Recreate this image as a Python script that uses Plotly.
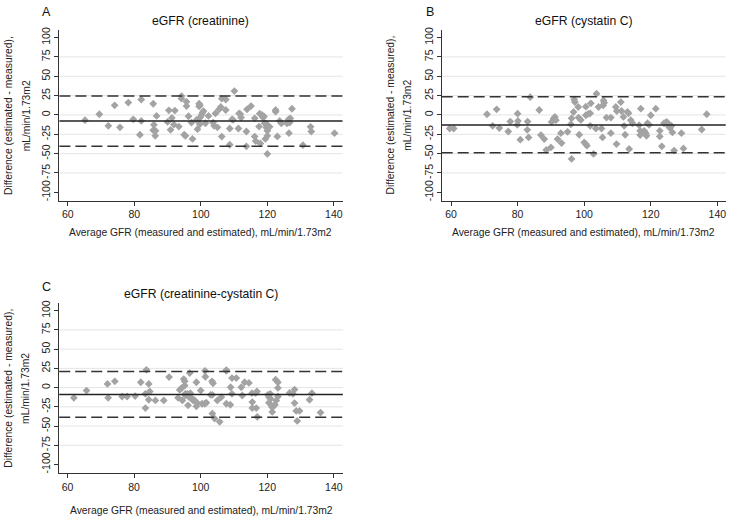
import plotly.graph_objects as go

W, H = 730, 519

# ---------------- data ----------------
a_avg = [65.2, 69.5, 72.2, 74.1, 75.7, 78.2, 79.7, 82.1, 82.1, 81.7, 85.7, 85.9, 85.7, 86.4, 86.3, 86.7,
         90.0, 90.4, 90.9, 91.3, 91.9, 92.2, 93.4, 94.2, 94.2, 95.0, 95.4, 95.7, 95.7, 96.3, 97.2, 97.5,
         98.7, 99.0, 99.5, 99.5, 99.7, 99.8, 99.7, 100.2, 100.5, 100.8, 101.4, 102.3, 103.7, 104.0, 104.4,
         105.0, 105.5, 106.0, 106.3, 106.3, 107.5, 107.5, 108.7, 108.7, 109.4, 110.1, 109.7, 111.3, 111.5,
         111.9, 112.1, 113.9, 113.7, 113.7, 115.1, 116.2, 116.2, 116.5, 117.5, 117.7, 117.9, 118.4, 118.7,
         119.0, 119.2, 119.4, 119.7, 119.8, 120.0, 120.0, 120.0, 120.7, 122.5, 122.5, 123.0, 123.7, 124.2,
         125.9, 126.4, 126.5, 126.9, 126.7, 127.4, 130.7, 133.0, 133.2, 140.2]
a_diff = [-6.8, 0.9, -14.0, 12.4, -16.0, 16.0, -5.6, 20.0, -7.7, -25.6, 14.5, -12.8, -19.7, -20.5, -27.0, -1.3,
          -9.0, 6.0, -19.2, -3.8, -12.4, 5.6, -15.0, 24.4, 21.0, -25.6, -27.0, 17.0, 11.5, -1.7, -9.8, -31.0,
          -6.4, -18.4, 14.5, 11.0, 12.8, -3.4, -12.0, 0.0, 3.0, 5.0, -10.7, -1.3, -9.8, -14.0, 2.0,
          -16.0, 7.3, 10.3, 21.0, -28.0, 20.0, 6.4, -17.5, -38.5, -5.6, 30.8, -6.4, -17.5, 2.0,
          0.9, -3.4, 7.3, -21.4, -40.6, 11.5, -4.3, -28.0, -33.8, -15.0, 1.7, -36.8, 0.0, -3.4,
          -2.0, -10.7, -31.0, -16.2, -12.0, -20.5, -27.0, -50.4, -15.4, 6.4, 4.3, -27.8, -7.7, -11.0,
          -11.0, -5.6, -23.5, -4.3, -9.8, 8.0, -39.0, -15.4, -21.4, -23.5]
a_mean, a_upper, a_lower = -7.8, 24.4, -40.3

b_avg = [59.6, 60.8, 70.8, 72.5, 73.7, 74.5, 77.2, 77.8, 80.0, 80.1, 79.9, 80.8, 83.0, 82.9, 83.3, 83.8,
         86.5, 87.0, 88.0, 88.6, 90.0, 90.2, 90.8, 91.2, 91.5, 92.0, 93.0, 93.2, 95.0, 96.0, 96.2, 96.2,
         96.8, 97.0, 97.2, 98.2, 98.3, 98.5, 99.0, 100.0, 100.5, 100.8, 100.5, 100.5, 101.2, 101.8, 102.0,
         101.8, 102.8, 103.5, 103.7, 104.3, 105.2, 105.5, 105.7, 105.8, 106.0, 106.7, 108.0, 108.0, 109.5,
         109.8, 109.7, 111.0, 111.2, 111.8, 112.0, 112.3, 113.0, 113.3, 113.5, 114.0, 114.5, 116.5, 116.8,
         116.8, 117.0, 118.0, 118.5, 118.7, 119.0, 119.5, 120.0, 121.5, 122.7, 122.7, 123.3, 124.0, 124.7,
         125.2, 125.5, 125.8, 126.2, 126.5, 127.0, 129.2, 129.8, 135.3, 136.8]
b_diff = [-17.5, -17.5, 0.9, -14.0, 7.3, -17.0, -21.4, -8.5, 1.7, -7.7, -12.8, -32.0, -8.5, -19.2, -29.0, 23.0,
          6.4, -26.0, -31.2, -45.3, -41.9, -9.0, -4.7, -2.6, -6.8, -31.2, -23.5, -36.3, -21.8, -12.0, -4.3, -56.8,
          3.8, 20.0, 16.7, 10.3, -3.4, -25.6, -6.4, -35.5, -37.6, -39.7, 10.7, -0.4, 1.3, 2.1, 15.0,
          -14.0, -50.4, -17.5, 27.4, 10.3, -17.5, -29.0, 12.4, 18.8, 15.8, -3.4, -3.4, -23.5, 10.3,
          5.1, -37.6, 16.7, 5.1, -2.6, -14.0, -25.6, 3.8, 2.1, -44.0, -6.8, -10.7, -13.2, -20.5,
          -26.0, 8.1, -20.5, -23.5, -27.0, -10.7, -12.8, -0.4, 8.1, -20.5, -27.8, -40.6, -10.7, -9.0,
          -10.7, -15.4, -17.0, -14.0, -22.6, -46.0, -23.5, -43.2, -18.8, 0.9]
b_mean, b_upper, b_lower = -12.9, 23.5, -48.9

c_avg = [61.9, 65.7, 72.0, 72.2, 74.2, 76.4, 77.9, 80.3, 82.0, 83.4, 83.4, 83.7, 84.4, 84.7, 84.4, 86.4,
         88.9, 90.5, 93.2, 93.7, 94.2, 94.5, 94.9, 95.2, 95.2, 95.4, 95.4, 96.0, 96.2, 96.5, 96.7, 96.9,
         97.2, 97.7, 98.2, 98.7, 99.0, 98.7, 100.0, 100.4, 101.2, 101.3, 101.4, 101.7, 103.4, 103.7, 103.0,
         103.5, 103.5, 104.2, 105.0, 105.7, 106.2, 107.7, 107.7, 107.7, 108.9, 109.0, 109.4, 109.4, 110.7,
         112.2, 112.5, 113.2, 114.5, 115.4, 115.5, 115.5, 116.5, 116.9, 116.7, 117.0, 120.2, 120.5, 120.5,
         120.9, 121.0, 121.4, 121.5, 121.9, 122.3, 122.7, 122.5, 123.2, 123.2, 123.2, 126.7, 127.7, 128.2,
         128.2, 128.7, 129.0, 129.7, 132.7, 133.4, 136.0]
c_diff = [-13.3, -3.9, 4.7, -13.3, 8.1, -11.6, -11.6, -11.1, 6.9, -8.1, -26.6, 23.1, 4.7, -5.1, -15.8, -16.7,
          -16.7, 13.7, -13.3, -3.0, -0.9, -16.7, 11.1, 8.1, 2.6, -8.1, -10.3, -8.1, -23.1, -12.4, 18.8, -7.3,
          -13.3, -16.7, -16.7, 6.9, -20.1, -24.4, -3.9, -21.0, -21.0, 21.8, 14.1, -19.7, 8.1, 5.6, -9.4,
          -9.4, -33.8, -40.3, -16.7, -44.5, -12.4, 22.7, 21.8, -21.0, -22.3, 0.4, -8.1, 12.4, 12.4,
          0.4, -10.3, 6.9, 6.0, -7.3, -18.8, -26.6, -7.3, -5.1, -26.6, -38.1, -9.4, -12.4, -19.7,
          -8.1, -14.6, -25.3, -31.7, -24.0, -22.3, -16.7, 10.3, 6.9, -0.4, -11.6, -6.9, -8.1, -2.6,
          -20.1, -30.4, -43.3, -30.4, -15.8, -7.3, -32.5]
c_mean, c_upper, c_lower = -9.0, 21.0, -38.6

panel_letters = ["A", "B", "C"]
panel_titles = ["eGFR (creatinine)", "eGFR (cystatin C)", "eGFR (creatinine-cystatin C)"]
x_title = "Average GFR (measured and estimated), mL/min/1.73m2"
y_title_1 = "Difference (estimated - measured),"
y_title_2 = "mL/min/1.73m2"

x_ticks = [60, 80, 100, 120, 140]
y_ticks = [-100, -75, -50, -25, 0, 25, 50, 75, 100]
y_tick_labels = ["-100", "-75", "-50", "-25", "0", "25", "50", "75", "100"]
grid_vals = [-75, -50, -25, 0, 25, 50, 75]

# ---------------- layout helpers (pixels -> paper) ----------------
def px(x):
    return x / W

def py(y):
    return 1 - y / H

FONT = "Liberation Sans, Arial, sans-serif"

panels = [
    dict(avg=a_avg, diff=a_diff, mean=a_mean, up=a_upper, lo=a_lower,
         left=59.5, right=343.0, top=27.0, bottom=199.0, xr=[57.5, 142.6],
         letter_x=40, letter_y=9.5, title_y=18.3, xt_y=231.0, yt1=8.7, yt2=26.0),
    dict(avg=b_avg, diff=b_diff, mean=b_mean, up=b_upper, lo=b_lower,
         left=442.3, right=726.7, top=27.0, bottom=199.0, xr=[57.2, 142.5],
         letter_x=424.3, letter_y=9.5, title_y=18.3, xt_y=231.0, yt1=390.7, yt2=408.0),
    dict(avg=c_avg, diff=c_diff, mean=c_mean, up=c_upper, lo=c_lower,
         left=59.3, right=343.3, top=301.7, bottom=472.7, xr=[57.5, 142.7],
         letter_x=40, letter_y=286.0, title_y=292.5, xt_y=510.5, yt1=8.7, yt2=26.0),
]

fig = go.Figure()
shapes = []
annotations = []
layout_axes = {}

for i, p in enumerate(panels):
    n = i + 1
    xa = "x" if n == 1 else f"x{n}"
    ya = "y" if n == 1 else f"y{n}"
    fig.add_trace(go.Scatter(
        x=p["avg"], y=p["diff"], mode="markers", xaxis=xa, yaxis=ya,
        marker=dict(symbol="diamond", size=6, color="#a3a3a3", line=dict(width=0)),
        showlegend=False, hoverinfo="x+y", cliponaxis=False))

    xkey = "xaxis" if n == 1 else f"xaxis{n}"
    ykey = "yaxis" if n == 1 else f"yaxis{n}"
    layout_axes[xkey] = dict(
        domain=[px(p["left"]), px(p["right"])], anchor=ya, range=p["xr"],
        tickmode="array", tickvals=x_ticks, ticks="outside", ticklen=4, tickwidth=1,
        tickcolor="#333333", showline=True, linecolor="#333333", linewidth=1,
        showgrid=False, zeroline=False, fixedrange=True,
        tickfont=dict(family=FONT, size=10.5, color="#222222"))
    layout_axes[ykey] = dict(
        domain=[py(p["bottom"]), py(p["top"])], anchor=xa, range=[-111, 110],
        tickmode="array", tickvals=y_ticks, ticktext=y_tick_labels, tickangle=-90,
        ticks="outside", ticklen=4, tickwidth=1, tickcolor="#333333",
        showline=True, linecolor="#333333", linewidth=1,
        showgrid=False, zeroline=False, fixedrange=True,
        tickfont=dict(family=FONT, size=10.5, color="#222222"))

    xd = f"{xa} domain"
    for g in grid_vals:
        shapes.append(dict(type="line", xref=xd, yref=ya, x0=0, x1=1, y0=g, y1=g,
                           line=dict(color="#e4e4e4", width=1), layer="below"))
    shapes.append(dict(type="line", xref=xd, yref=ya, x0=0, x1=1, y0=p["mean"], y1=p["mean"],
                       line=dict(color="#222222", width=1.4), layer="above"))
    for v in (p["up"], p["lo"]):
        shapes.append(dict(type="line", xref=xd, yref=ya, x0=0, x1=1, y0=v, y1=v,
                           line=dict(color="#333333", width=1.5, dash="11px,5px"), layer="above"))

    cx = (p["left"] + p["right"]) / 2
    annotations += [
        dict(text=panel_letters[i], x=px(p["letter_x"]), y=py(p["letter_y"]), xref="paper", yref="paper",
             xanchor="left", yanchor="middle", showarrow=False,
             font=dict(family=FONT, size=12.5, color="#111111")),
        dict(text=panel_titles[i], x=px(cx), y=py(p["title_y"]), xref="paper", yref="paper",
             xanchor="center", yanchor="middle", showarrow=False,
             font=dict(family=FONT, size=12.2, color="#111111")),
        dict(text=x_title, x=px(cx), y=py(p["xt_y"]), xref="paper", yref="paper",
             xanchor="center", yanchor="middle", showarrow=False,
             font=dict(family=FONT, size=10.3, color="#222222")),
        dict(text=y_title_1, x=px(p["yt1"]), y=py((p["top"] + p["bottom"]) / 2), xref="paper", yref="paper",
             xanchor="center", yanchor="middle", textangle=-90, showarrow=False,
             font=dict(family=FONT, size=10.3, color="#222222")),
        dict(text=y_title_2, x=px(p["yt2"]), y=py((p["top"] + p["bottom"]) / 2), xref="paper", yref="paper",
             xanchor="center", yanchor="middle", textangle=-90, showarrow=False,
             font=dict(family=FONT, size=10.3, color="#222222")),
    ]

fig.update_layout(
    width=W, height=H, margin=dict(l=0, r=0, t=0, b=0),
    paper_bgcolor="white", plot_bgcolor="white",
    shapes=shapes, annotations=annotations, showlegend=False,
    **layout_axes)

fig.write_html("out.html", config={"displayModeBar": False},
               post_script="document.body.style.margin='0';document.body.style.padding='0';")
